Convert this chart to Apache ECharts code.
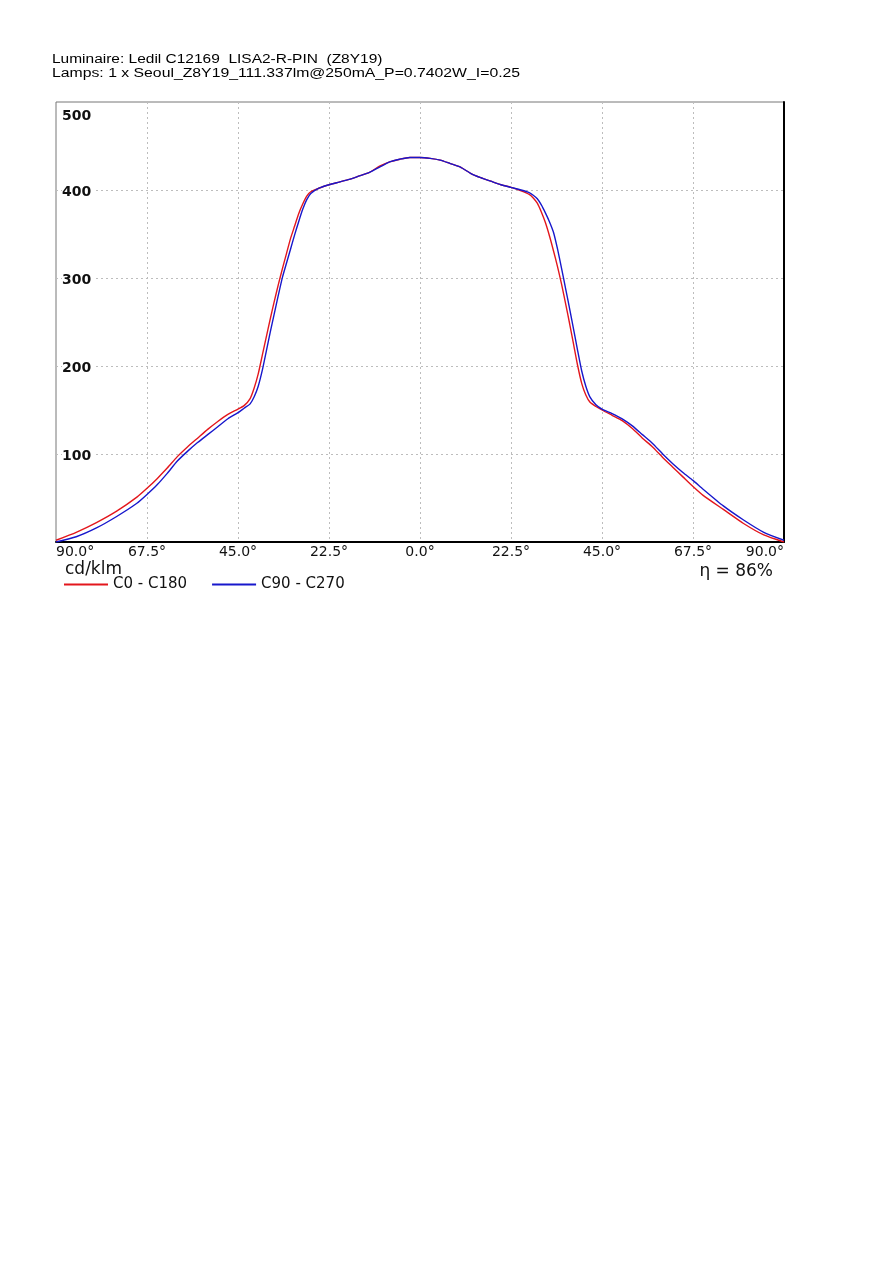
<!DOCTYPE html>
<html>
<head>
<meta charset="utf-8">
<script src="https://cdn.jsdelivr.net/npm/echarts@6/dist/echarts.min.js"></script>
<style>html,body{margin:0;padding:0;background:#fff;}#c{width:892px;height:1261px;}</style>
</head>
<body>
<div id="c"></div>
<script>
// ---- data ----
const titleLine1 = 'Luminaire: Ledil C12169  LISA2-R-PIN  (Z8Y19)';
const titleLine2 = 'Lamps: 1 x Seoul_Z8Y19_111.337lm@250mA_P=0.7402W_I=0.25';
const unitLabel = 'cd/klm';
const efficiencyLabel = 'η = 86%';
const seriesNames = ['C0 - C180', 'C90 - C270'];

const angles = [-90,-85,-80,-75,-70,-67.5,-65,-62.5,-60,-57.5,-55,-52.5,-50,-47.5,-45,-43.5,-42,-41,-40,-39,-38,-37,-36,-35,-34,-33,-32,-31,-30,-29,-28,-27,-25,-22.5,-20,-17.5,-15,-12.5,-10,-7.5,-5,-2.5,
  0,
  2.5,5,7.5,10,12.5,15,17.5,20,22.5,25,27,28,29,30,31,32,33,34,35,36,37,38,39,40,41,42,43.5,45,47.5,50,52.5,55,57.5,60,62.5,65,67.5,70,75,80,85,90];

const c0c180 = [2,11,22,35,51,61,72,84,97,108,118,128,137,145,151,155,163,175,191,212,233,254,274,293,311,328,345,359,373,384,393,398,402,406,409,412,416,420,427,432,435,437,
  437,
  436,434,430,426,419,414,410,406,403,399,395,391,385,375,363,348,331,313,293,271,248,224,200,180,167,159,154,150,144,138,129,118,108,96,85,74,63,53,37,21,8,0];

const c90c270 = [0,6,16,29,44,54,65,78,92,103,113,122,131,140,147,152,157,165,177,195,217,239,260,281,301,317,333,349,364,378,389,396,402,406,409,412,416,420,426,432,435,437,
  437,
  436,434,430,426,419,414,410,406,403,400,397,394,390,383,374,364,352,333,311,288,265,241,217,194,177,165,156,151,146,140,132,122,112,100,89,79,70,60,41,25,11,2];

const xTicks = { min: -90, max: 90, interval: 22.5 };
const yTicks = { min: 0, max: 500, interval: 100 };

// ---- chart ----
const chart = echarts.init(document.getElementById('c'), null, { renderer: 'canvas' });
const pair = (vals) => angles.map((a, i) => [a, vals[i]]);

chart.setOption({
  animation: false,
  backgroundColor: '#fff',
  textStyle: { fontFamily: 'DejaVu Sans' },
  grid: { left: 56, right: 108, top: 102, bottom: 719, show: true, borderColor: '#777', borderWidth: 1 },
  graphic: [
    { type: 'text', x: 52, y: 54, scaleX: 1.29, style: { text: titleLine1, font: '12px "Liberation Sans"', fill: '#000' } },
    { type: 'text', x: 52, y: 68, scaleX: 1.315, style: { text: titleLine2, font: '12px "Liberation Sans"', fill: '#000' } },
    { type: 'text', left: 65, top: 561, style: { text: unitLabel, font: '17px "DejaVu Sans"', fill: '#111' } },
    { type: 'text', right: 892 - 773, top: 563, style: { text: efficiencyLabel, font: '17px "DejaVu Sans"', fill: '#111', textAlign: 'right' } }
  ],
  legend: {
    left: 64, top: 577, padding: 0, itemWidth: 44, itemHeight: 2, itemGap: 25, icon: 'rect',
    textStyle: { fontSize: 15, color: '#111', fontFamily: 'DejaVu Sans' },
    data: seriesNames
  },
  xAxis: {
    type: 'value', min: xTicks.min, max: xTicks.max, interval: xTicks.interval,
    axisLine: { show: true, onZero: false, lineStyle: { color: '#000', width: 2 } },
    axisTick: { show: false },
    axisLabel: {
      margin: 3, fontSize: 14, color: '#111', fontFamily: 'DejaVu Sans',
      alignMinLabel: 'left', alignMaxLabel: 'right',
      formatter: (v) => Math.abs(v).toFixed(1) + '°'
    },
    splitLine: { show: true, showMinLine: false, showMaxLine: false, lineStyle: { color: '#bdbdbd', type: [2, 3], width: 1 } }
  },
  yAxis: [{
    type: 'value', min: yTicks.min, max: yTicks.max, interval: yTicks.interval,
    axisLine: { show: false },
    axisTick: { show: false },
    axisLabel: {
      inside: true, margin: 6, showMinLabel: false,
      formatter: (v) => v === 500 ? '{t|500}' : '{n|' + v + '}',
      rich: {
        t: { padding: [28, 0, 0, 0], fontSize: 14, fontWeight: 'bold', color: '#111', fontFamily: 'DejaVu Sans' },
        n: { padding: [4, 4, 0, 0], backgroundColor: '#fff', fontSize: 14, fontWeight: 'bold', color: '#111', fontFamily: 'DejaVu Sans' }
      }
    },
    splitLine: { show: true, showMinLine: false, showMaxLine: false, lineStyle: { color: '#bdbdbd', type: [2, 3], width: 1 } },
    z: 3
  }, {
    type: 'value', min: yTicks.min, max: yTicks.max, position: 'right',
    axisLine: { show: true, lineStyle: { color: '#000', width: 2 } },
    axisTick: { show: false }, axisLabel: { show: false }, splitLine: { show: false }
  }],
  series: [
    { name: seriesNames[0], type: 'line', data: pair(c0c180), showSymbol: false, smooth: 0.2,
      lineStyle: { color: '#e3161c', width: 1.4 }, itemStyle: { color: '#e3161c' }, z: 4 },
    { name: seriesNames[1], type: 'line', data: pair(c90c270), showSymbol: false, smooth: 0.2,
      lineStyle: { color: '#1717cc', width: 1.4 }, itemStyle: { color: '#1717cc' }, z: 5 }
  ]
});
</script>
</body>
</html>
